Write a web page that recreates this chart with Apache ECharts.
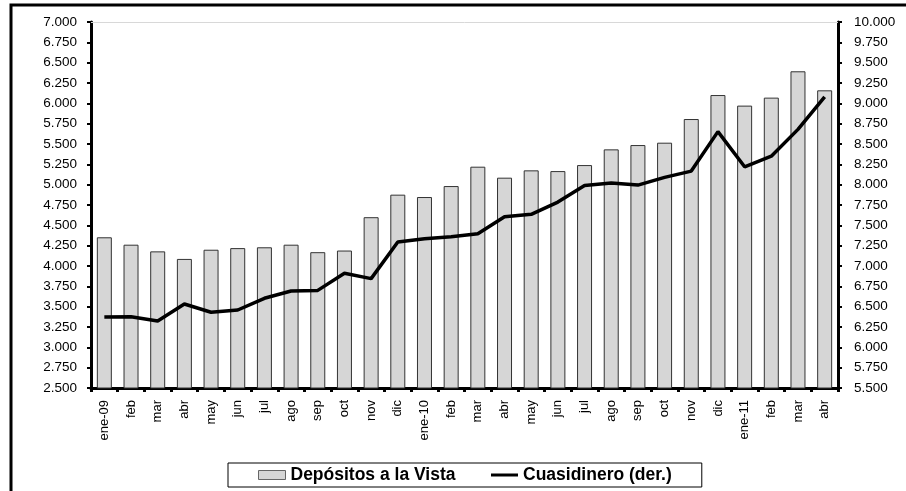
<!DOCTYPE html>
<html>
<head>
<meta charset="utf-8">
<script src="https://cdn.jsdelivr.net/npm/echarts@6/dist/echarts.min.js"></script>
<style>
  html, body { margin: 0; padding: 0; background: #fff; }
  #main { width: 906px; height: 491px; }
</style>
</head>
<body>
<div id="main"></div>
<script>
// meses
var months = ['ene-09', 'feb', 'mar', 'abr', 'may', 'jun', 'jul', 'ago', 'sep', 'oct', 'nov', 'dic',
  'ene-10', 'feb', 'mar', 'abr', 'may', 'jun', 'jul', 'ago', 'sep', 'oct', 'nov', 'dic',
  'ene-11', 'feb', 'mar', 'abr'];

// eje izquierdo
var depositos = [4353, 4262, 4180, 4087, 4200, 4220, 4230, 4262, 4170, 4190, 4600, 4877,
  4848, 4983, 5221, 5086, 5176, 5167, 5241, 5434, 5487, 5516, 5807, 6102,
  5972, 6070, 6394, 6160];

// eje derecho
var cuasidinero = [6373, 6377, 6324, 6533, 6431, 6459, 6603, 6693, 6700, 6910, 6845, 7294,
  7336, 7360, 7397, 7606, 7635, 7786, 7990, 8020, 7995, 8090, 8167, 8652,
  8220, 8350, 8680, 9080];

var font = 'Liberation Sans, Arial, sans-serif';

function fmt(v) {
  return (v / 1000).toFixed(3);
}

var chart = echarts.init(document.getElementById('main'));
chart.setOption({
  animation: false,
  backgroundColor: '#fff',
  textStyle: { fontFamily: font },
  graphic: [{
    type: 'rect',
    shape: { x: 11, y: 5, width: 1000, height: 1000 },
    style: { fill: 'none', stroke: '#000', lineWidth: 3 },
    silent: true
  }],
  grid: { left: 91, right: 68, top: 22, bottom: 103 },
  legend: {
    left: 228,
    top: 463,
    padding: [3, 30, 3, 30],
    itemGap: 34,
    itemWidth: 27,
    itemHeight: 9,
    borderColor: '#000',
    borderWidth: 1,
    textStyle: { fontFamily: font, fontSize: 17.5, fontWeight: 'bold', color: '#000' },
    data: [
      { name: 'Depósitos a la Vista', icon: 'rect', itemStyle: { borderColor: '#666', borderWidth: 1 } },
      { name: 'Cuasidinero (der.)', itemStyle: { opacity: 0 }, lineStyle: { color: '#000', width: 3 } }
    ]
  },
  xAxis: [{
    type: 'category',
    data: months,
    boundaryGap: true,
    axisLine: { lineStyle: { color: '#000', width: 3 } },
    axisTick: { show: true, length: 4, lineStyle: { color: '#000', width: 3 } },
    axisLabel: { rotate: 90, margin: 12, fontSize: 13, color: '#000', interval: 0 },
    splitLine: { show: false }
  }, {
    type: 'category',
    data: months,
    position: 'top',
    axisLine: { lineStyle: { color: '#d8d8d8', width: 1 } },
    axisTick: { show: false },
    axisLabel: { show: false }
  }],
  yAxis: [{
    type: 'value',
    min: 2500,
    max: 7000,
    interval: 250,
    axisLine: { show: true, lineStyle: { color: '#000', width: 3 } },
    axisTick: { show: true, length: 4, lineStyle: { color: '#000', width: 2 } },
    axisLabel: { formatter: fmt, fontSize: 13.5, color: '#000', margin: 14 },
    splitLine: { show: false }
  }, {
    type: 'value',
    min: 5500,
    max: 10000,
    interval: 250,
    position: 'right',
    axisLine: { show: true, lineStyle: { color: '#000', width: 3 } },
    axisTick: { show: true, length: 4, lineStyle: { color: '#000', width: 2 } },
    axisLabel: { formatter: fmt, fontSize: 13.5, color: '#000', margin: 16 },
    splitLine: { show: false }
  }],
  series: [{
    name: 'Depósitos a la Vista',
    type: 'bar',
    data: depositos,
    barWidth: 15,
    itemStyle: { color: '#d6d6d6', borderColor: '#333', borderWidth: 1 }
  }, {
    name: 'Cuasidinero (der.)',
    type: 'line',
    yAxisIndex: 1,
    data: cuasidinero,
    symbol: 'none',
    lineStyle: { color: '#000', width: 3.5 },
    itemStyle: { color: '#000' }
  }]
});
</script>
</body>
</html>
